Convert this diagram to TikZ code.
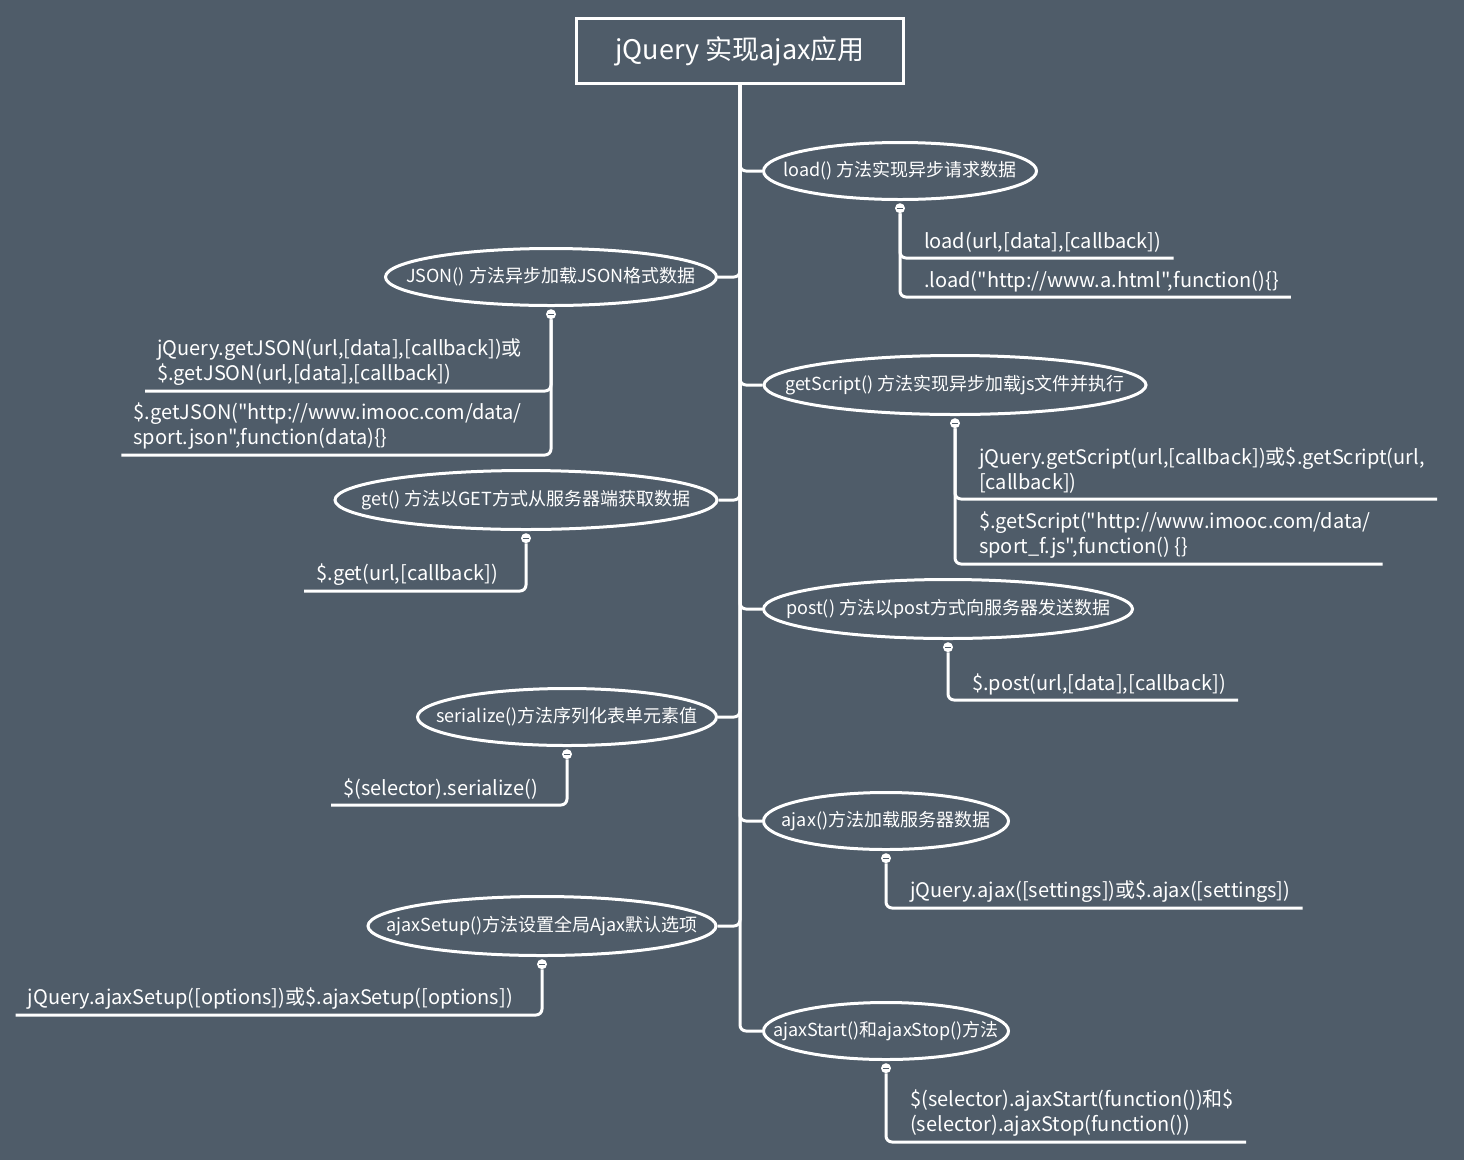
\documentclass[tikz,border=0pt]{standalone}
\usepackage{fontspec}
\setmainfont{Noto Sans CJK SC}[Ligatures=TeXOff]
\usetikzlibrary{positioning,shapes.geometric}
\definecolor{slate}{HTML}{4F5C69}

\begin{document}
\begin{tikzpicture}[x=1pt, y=-1pt,
  root/.style={draw=white, line width=3pt, text=white, minimum width=327pt, minimum height=65pt, font=\fontsize{27}{32}\selectfont},
  topic/.style={ellipse, draw=white, line width=3pt, text=white, inner xsep=-100pt, inner ysep=0pt, font=\fontsize{18}{22}\selectfont},
  leaf/.style={text=white, inner xsep=12pt, inner ysep=5pt, align=left, font=\fontsize{20}{25}\selectfont},
  fold/.style={circle, fill=white, minimum size=10pt, inner sep=0pt,
    path picture={\draw[slate, line width=1.4pt] ([xshift=-3pt]path picture bounding box.center) -- ([xshift=3pt]path picture bounding box.center);}},
  link/.style={white, line width=3pt, rounded corners=6pt}]
  \fill[slate] (0,0) rectangle (1464,1160);
  \useasboundingbox (0,0) rectangle (1464,1160);
  % centre
  \node[root] (main) at (740,51) {jQuery 实现ajax应用};
  % topics
  \node[topic, minimum width=273pt, minimum height=57pt] (load) at (900,171) {load() 方法实现异步请求数据};
  \node[topic, minimum width=331pt, minimum height=57pt] (json) at (551,277) {JSON() 方法异步加载JSON格式数据};
  \node[topic, minimum width=382pt, minimum height=59pt] (getscript) at (955,385) {getScript() 方法实现异步加载js文件并执行};
  \node[topic, minimum width=382pt, minimum height=59pt] (get) at (526,500) {get() 方法以GET方式从服务器端获取数据};
  \node[topic, minimum width=369pt, minimum height=59pt] (post) at (948,609) {post() 方法以post方式向服务器发送数据};
  \node[topic, minimum width=299pt, minimum height=57pt] (serialize) at (567,717) {serialize()方法序列化表单元素值};
  \node[topic, minimum width=245pt, minimum height=57pt] (ajax) at (886,821) {ajax()方法加载服务器数据};
  \node[topic, minimum width=348pt, minimum height=59pt] (ajaxsetup) at (542,926) {ajaxSetup()方法设置全局Ajax默认选项};
  \node[topic, minimum width=245pt, minimum height=57pt] (ajaxstart) at (886,1031) {ajaxStart()和ajaxStop()方法};
  % fold markers
  \foreach \t in {load,json,getscript,get,post,serialize,ajax,ajaxsetup,ajaxstart}
    \node[fold, below=2pt of \t] (\t m) {};
  % leaves
  \node[leaf, anchor=south west] (load1) at (912,258) {load(url,[data],[callback])};
  \node[leaf, anchor=south west] (load2) at (912,297) {.load("http://www.a.html",function()\{\}};
  \node[leaf, anchor=south east] (json1) at (534,391) {jQuery.getJSON(url,[data],[callback])或\\\$.getJSON(url,[data],[callback])};
  \node[leaf, anchor=south east] (json2) at (534,455) {\$.getJSON("http://www.imooc.com/data/\\sport.json",function(data)\{\}};
  \node[leaf, anchor=south east] (get1) at (510,591) {\$.get(url,[callback])};
  \node[leaf, anchor=south west] (getscript1) at (967,499) {jQuery.getScript(url,[callback])或\$.getScript(url,\\{}[callback])};
  \node[leaf, anchor=south west] (getscript2) at (967,564) {\$.getScript("http://www.imooc.com/data/\\sport\_f.js",function() \{\}};
  \node[leaf, anchor=south west] (post1) at (960,700) {\$.post(url,[data],[callback])};
  \node[leaf, anchor=south east] (serialize1) at (550,805) {\$(selector).serialize()};
  \node[leaf, anchor=south west] (ajax1) at (898,908) {jQuery.ajax([settings])或\$.ajax([settings])};
  \node[leaf, anchor=south east] (ajaxsetup1) at (525,1015) {jQuery.ajaxSetup([options])或\$.ajaxSetup([options])};
  \node[leaf, anchor=south west] (ajaxstart1) at (898,1142) {\$(selector).ajaxStart(function())和\$\\(selector).ajaxStop(function())};
  % trunk and branches
  \foreach \t in {load,getscript,post,ajax,ajaxstart}
    \draw[link] (main.south) |- (\t.west);
  \foreach \t in {json,get,serialize,ajaxsetup}
    \draw[link] (main.south) |- (\t.east);
  % leaf lines
  \foreach \t/\l in {loadm/load1,loadm/load2,getscriptm/getscript1,getscriptm/getscript2,postm/post1,ajaxm/ajax1,ajaxstartm/ajaxstart1}
    \draw[link] (\t.south) |- (\l.south east);
  \foreach \t/\l in {jsonm/json1,jsonm/json2,getm/get1,serializem/serialize1,ajaxsetupm/ajaxsetup1}
    \draw[link] (\t.south) |- (\l.south west);
\end{tikzpicture}
\end{document}
